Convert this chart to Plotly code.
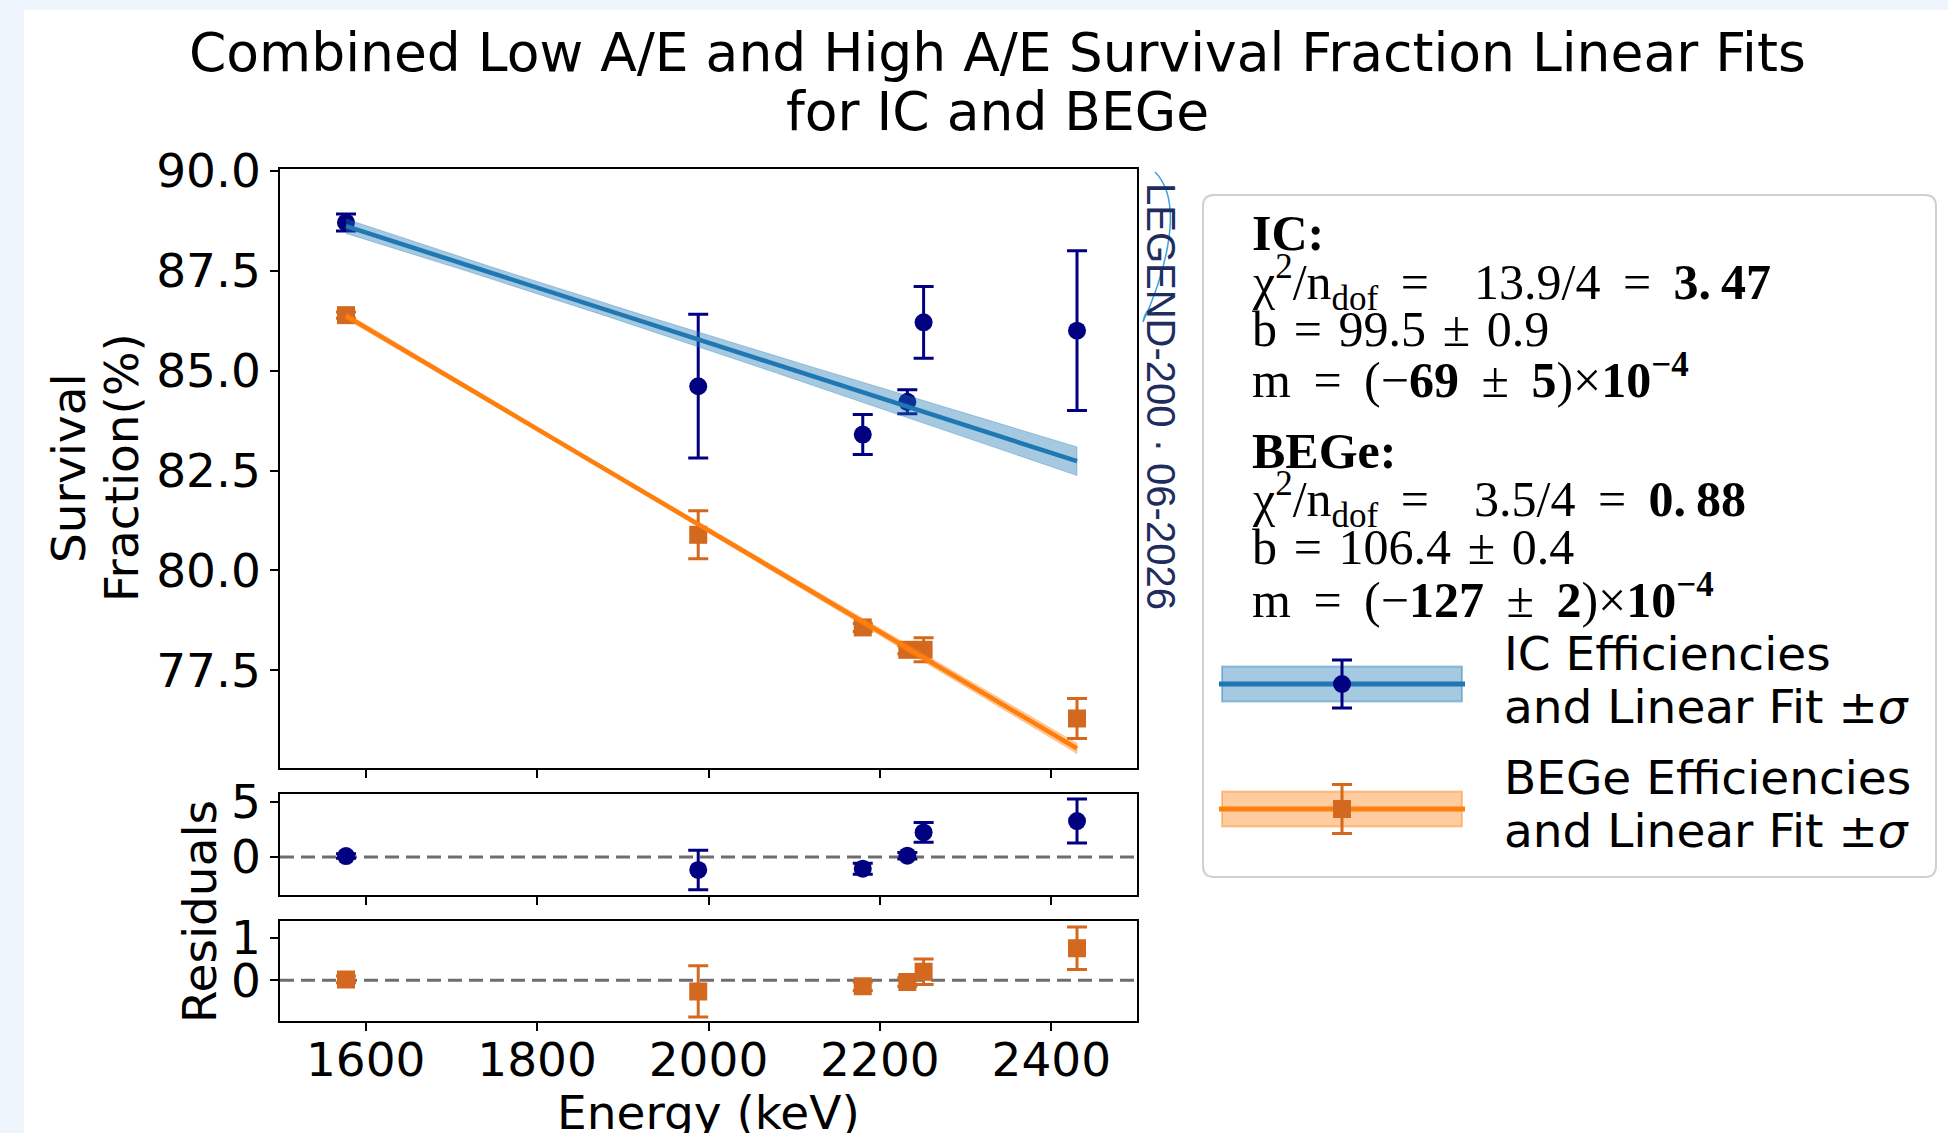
import numpy as np
import plotly.graph_objects as go

W, H = 1948, 1133

# ---------------- data ----------------
energy_ic = [1577, 1988, 2180, 2232, 2251, 2430]
sf_ic = [88.71, 84.61, 83.40, 84.22, 86.21, 86.00]
sf_ic_err = [0.21, 1.80, 0.50, 0.30, 0.90, 2.00]

energy_bege = [1577, 1988, 2180, 2232, 2251, 2430]
sf_bege = [86.39, 80.89, 78.57, 78.01, 78.01, 76.29]
sf_bege_err = [0.08, 0.60, 0.10, 0.10, 0.30, 0.50]

# fit results (intercept b, slope m) and goodness of fit
ic_fit = dict(b=99.5, b_err=0.9, m=-69e-4, m_err=5e-4, chi2=13.9, ndof=4, chi2_red=3.47,
              band_s0=0.15, band_pivot=1780)
bege_fit = dict(b=106.4, b_err=0.4, m=-127e-4, m_err=2e-4, chi2=3.5, ndof=4, chi2_red=0.88,
                band_s0=0.05, band_pivot=1850)

x_ticks = [1600, 1800, 2000, 2200, 2400]
y_ticks_main = [77.5, 80.0, 82.5, 85.0, 87.5, 90.0]
y_ticks_res_ic = [0, 5]
y_ticks_res_bege = [0, 1]

# ---------------- style ----------------
IC_DATA = "#000080"
IC_FIT = "#1f77b4"
IC_BAND = "rgba(31,119,180,0.4)"
BG_DATA = "#d2691e"
BG_FIT = "#ff7f0e"
BG_BAND = "rgba(255,127,14,0.4)"
SANS = "DejaVu Sans"
SERIF = "Liberation Serif"
TICKF = 47


def fx(x):
    return x / W


def fy(y):
    return 1 - y / H


fig = go.Figure()


def add_series(xs, ys, es, fit, dcolor, symbol, fcolor, bcolor):
    xs = np.array(xs, float)
    ys = np.array(ys, float)
    es = np.array(es, float)
    fig.add_trace(go.Scatter(x=xs, y=ys, mode="markers",
                             marker=dict(color=dcolor, size=18, symbol=symbol),
                             error_y=dict(type="data", array=es, color=dcolor, thickness=3, width=10),
                             xaxis="x", yaxis="y", showlegend=False))
    xl = np.linspace(xs.min(), xs.max(), 120)
    yl = fit["b"] + fit["m"] * xl
    sig = np.sqrt(fit["band_s0"] ** 2 + ((xl - fit["band_pivot"]) * fit["m_err"]) ** 2)
    fig.add_trace(go.Scatter(x=np.concatenate([xl, xl[::-1]]),
                             y=np.concatenate([yl + sig, (yl - sig)[::-1]]),
                             fill="toself", fillcolor=bcolor, mode="lines",
                             line=dict(width=0.8, color=bcolor), hoverinfo="skip",
                             xaxis="x", yaxis="y", showlegend=False))
    fig.add_trace(go.Scatter(x=xl, y=yl, mode="lines", line=dict(color=fcolor, width=4.5),
                             xaxis="x", yaxis="y", showlegend=False))
    return xs, ys - (fit["b"] + fit["m"] * xs), es


rx_ic, r_ic, re_ic = add_series(energy_ic, sf_ic, sf_ic_err, ic_fit, IC_DATA, "circle", IC_FIT, IC_BAND)
rx_bg, r_bg, re_bg = add_series(energy_bege, sf_bege, sf_bege_err, bege_fit, BG_DATA, "square", BG_FIT, BG_BAND)

fig.add_trace(go.Scatter(x=rx_ic, y=r_ic, mode="markers",
                         marker=dict(color=IC_DATA, size=18, symbol="circle"),
                         error_y=dict(type="data", array=re_ic, color=IC_DATA, thickness=3, width=10),
                         xaxis="x2", yaxis="y2", showlegend=False))
fig.add_trace(go.Scatter(x=rx_bg, y=r_bg, mode="markers",
                         marker=dict(color=BG_DATA, size=18, symbol="square"),
                         error_y=dict(type="data", array=re_bg, color=BG_DATA, thickness=3, width=10),
                         xaxis="x3", yaxis="y3", showlegend=False))

# ---------------- legend handles (hidden pixel axis) ----------------
leg_x0, leg_x1 = 1222, 1462
leg_mid = (leg_x0 + leg_x1) / 2
handle_y = [684, 809]
handle_err = [24, 24.5]
fig.add_trace(go.Scatter(x=[leg_mid], y=[handle_y[0]], mode="markers",
                         marker=dict(color=IC_DATA, size=18, symbol="circle"),
                         error_y=dict(type="data", array=[handle_err[0]], color=IC_DATA, thickness=3, width=10),
                         xaxis="x4", yaxis="y4", showlegend=False))
fig.add_trace(go.Scatter(x=[leg_mid], y=[handle_y[1]], mode="markers",
                         marker=dict(color=BG_DATA, size=18, symbol="square"),
                         error_y=dict(type="data", array=[handle_err[1]], color=BG_DATA, thickness=3, width=10),
                         xaxis="x4", yaxis="y4", showlegend=False))

# ---------------- axes ----------------
xdom = [fx(280), fx(1137)]
common_ax = dict(showline=True, mirror=True, linecolor="black", linewidth=1.6,
                 ticks="outside", ticklen=8, tickwidth=1.6, tickcolor="black",
                 showgrid=False, zeroline=False, automargin=False,
                 tickfont=dict(family=SANS, size=TICKF, color="black"))

fig.update_layout(
    xaxis=dict(domain=xdom, range=[1500, 2500], tickvals=x_ticks, showticklabels=False,
               anchor="y", **common_ax),
    yaxis=dict(domain=[fy(768), fy(169)], range=[75.05, 90.05], tickvals=y_ticks_main,
               ticktext=[f"{v:.1f}" for v in y_ticks_main], anchor="x", **common_ax),
    xaxis2=dict(domain=xdom, range=[1500, 2500], tickvals=x_ticks, showticklabels=False,
                anchor="y2", **common_ax),
    yaxis2=dict(domain=[fy(895), fy(794)], range=[-3.45, 5.73], tickvals=y_ticks_res_ic,
                anchor="x2", **common_ax),
    xaxis3=dict(domain=xdom, range=[1500, 2500], tickvals=x_ticks, ticklabelstandoff=-11,
                ticktext=[str(v) for v in x_ticks], anchor="y3", **common_ax),
    yaxis3=dict(domain=[fy(1020.7), fy(921)], range=[-0.95, 1.39], tickvals=y_ticks_res_bege,
                anchor="x3", **common_ax),
    xaxis4=dict(domain=[fx(leg_x0), fx(leg_x1)], range=[leg_x0, leg_x1], visible=False,
                anchor="y4", fixedrange=True, automargin=False),
    yaxis4=dict(domain=[fy(845), fy(645)], range=[845, 645], visible=False,
                anchor="x4", fixedrange=True, automargin=False),
)

shapes = []
shapes.append(dict(type="rect", xref="paper", yref="paper", x0=fx(24), x1=1.01, y0=-0.01, y1=fy(10),
                   fillcolor="white", line=dict(width=0), layer="below"))
for xr, yr in (("x2", "y2"), ("x3", "y3")):
    shapes.append(dict(type="line", xref=f"{xr} domain", yref=yr, x0=0, x1=1, y0=0, y1=0,
                       line=dict(color="#6e6e6e", width=3, dash="14px,7px"), layer="below"))


def P(x, y):
    return f"{fx(x):.5f},{fy(y):.5f}"


bx0, by0, bx1, by1, r = 1203, 195, 1936, 877, 11
path = (f"M {P(bx0 + r, by0)} L {P(bx1 - r, by0)} Q {P(bx1, by0)} {P(bx1, by0 + r)} "
        f"L {P(bx1, by1 - r)} Q {P(bx1, by1)} {P(bx1 - r, by1)} L {P(bx0 + r, by1)} "
        f"Q {P(bx0, by1)} {P(bx0, by1 - r)} L {P(bx0, by0 + r)} Q {P(bx0, by0)} {P(bx0 + r, by0)} Z")
shapes.append(dict(type="path", xref="paper", yref="paper", path=path, fillcolor="white",
                   line=dict(color="#d0d0d0", width=2), layer="below"))
for hy, band, col in ((handle_y[0], IC_BAND, IC_FIT), (handle_y[1], BG_BAND, BG_FIT)):
    shapes.append(dict(type="rect", xref="paper", yref="paper", x0=fx(leg_x0), x1=fx(leg_x1),
                       y0=fy(hy + 17.5), y1=fy(hy - 17.5), fillcolor=band,
                       line=dict(color=band, width=2), layer="below"))
    shapes.append(dict(type="line", xref="paper", yref="paper", x0=fx(leg_x0 - 3), x1=fx(leg_x1 + 3),
                       y0=fy(hy), y1=fy(hy), line=dict(color=col, width=5), layer="below"))
sw = f"M {P(1155, 172)} C {P(1188, 205)} {P(1160, 285)} {P(1143, 322)} Q {P(1146, 306)} {P(1156, 309)}"
shapes.append(dict(type="path", xref="paper", yref="paper", path=sw,
                   line=dict(color="#3aa3e3", width=1.5)))
fig.update_layout(shapes=shapes)

ann = []


def text(x, y, s, size, family=SANS, xanchor="center", angle=0, color="black"):
    ann.append(dict(x=fx(x), y=fy(y), xref="paper", yref="paper", text=s, showarrow=False,
                    xanchor=xanchor, yanchor="middle", textangle=angle,
                    font=dict(family=family, size=size, color=color)))


text(998, 52, "Combined Low A/E and High A/E Survival Fraction Linear Fits", 53.5)
text(998, 111, "for IC and BEGe", 53.5)
text(68, 468, "Survival", TICKF, angle=-90)
text(121, 468, "Fraction(%)", TICKF, angle=-90)
text(199, 912, "Residuals", TICKF, angle=-90)
text(708, 1112, "Energy (keV)", TICKF)
text(1161, 396, "LEGEND-200 · 06-2026", 40, family="Liberation Sans", angle=90, color="#1f2d5e")

S = " \u2009"   # wide math-like space
Sh = " \u200a"  # narrower space
T = "\u2009"


def stats_lines(name, f):
    mant = round(f["m"] * 1e4)
    merr = round(f["m_err"] * 1e4)
    ip, fp = f"{f['chi2_red']:.2f}".split(".")
    return [
        f"<b>{name}:</b>",
        f"χ<sup>2</sup>/n<sub>dof</sub>{S}={S}{S}{f['chi2']:.1f}/{f['ndof']}{S}={S}<b>{ip}.{T}{fp}</b>",
        f"b{Sh}={Sh}{f['b']:.1f}{Sh}±{Sh}{f['b_err']:.1f}",
        f"m{S}={S}(−<b>{abs(mant)}</b>{S}±{S}<b>{merr}</b>)×<b>10<sup>−4</sup></b>",
    ]


stat_y = [233, 282, 329, 376, 451, 499, 547, 596]
lines = stats_lines("IC", ic_fit) + stats_lines("BEGe", bege_fit)
for yy, s in zip(stat_y, lines):
    text(1250, yy, s, 50, family=SERIF, xanchor="left")

leg_text_y = [653, 706, 777, 830]
leg_lines = ["IC Efficiencies", "and Linear Fit ±<i>σ</i>", "BEGe Efficiencies", "and Linear Fit ±<i>σ</i>"]
for yy, s in zip(leg_text_y, leg_lines):
    text(1502, yy, s, TICKF, xanchor="left")

fig.update_layout(annotations=ann, width=W, height=H, autosize=False,
                  margin=dict(l=0, r=0, t=0, b=0, pad=0, autoexpand=False),
                  paper_bgcolor="#edf4fb", plot_bgcolor="rgba(0,0,0,0)",
                  showlegend=False)

fig.write_html("out.html", config={"displayModeBar": False},
               post_script="document.body.style.margin='0px';")
